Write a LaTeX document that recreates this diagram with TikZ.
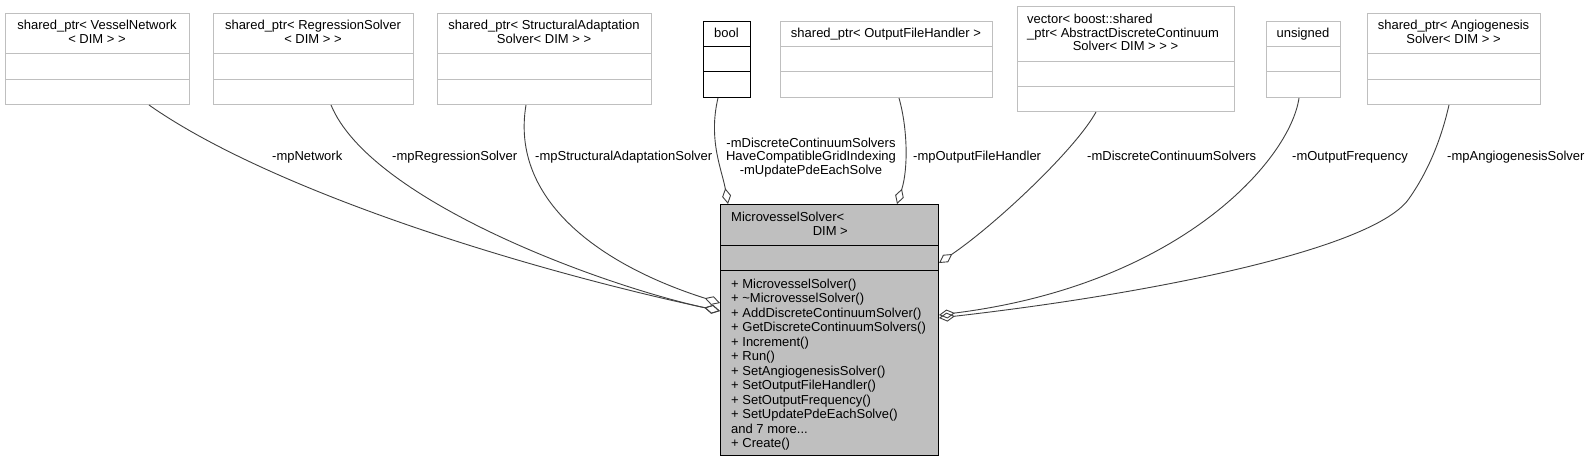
\documentclass[tikz,border=0pt]{standalone}
\usepackage{fontspec}
\setmainfont{Liberation Sans}
\usetikzlibrary{arrows.meta}
\definecolor{gborder}{HTML}{BFBFBF}
\definecolor{mainfill}{HTML}{BFBFBF}
\definecolor{edgecol}{HTML}{404040}
\begin{document}
\begin{tikzpicture}[x=1pt,y=-1pt,
  gbox/.style={draw=gborder,line width=1pt,fill=white,anchor=north west,inner sep=0pt},
  kbox/.style={draw=black,line width=1pt,fill=white,anchor=north west,inner sep=0pt},
  mbox/.style={draw=black,line width=1pt,fill=mainfill,anchor=north west,inner sep=0pt},
  gsep/.style={draw=gborder,line width=1pt},
  ksep/.style={draw=black,line width=1pt},
  txt/.style={inner sep=0pt,font=\fontsize{13}{13.4}\selectfont},
  conn/.style={draw=edgecol,line width=0.9pt,-{Diamond[open,length=16pt,width=9pt,line width=0.9pt]}},
  lbl/.style={txt,anchor=base west}]
\useasboundingbox (0,0) rectangle (1588,463);
\fill[white] (0,0) rectangle (1588,463);

% top boxes
\node[gbox,minimum width=184pt,minimum height=91pt] (vn) at (5,13) {};
\draw[gsep] (vn.west |- 0,53) -- (vn.east |- 0,53);
\draw[gsep] (vn.west |- 0,79) -- (vn.east |- 0,79);
\node[txt,anchor=base] (vnA) at (97,29.5) {shared\_ptr< VesselNetwork};
\node[txt,anchor=base] (vnB) at (97,43) {< DIM > >};

\node[gbox,minimum width=200pt,minimum height=91pt] (rs) at (213,13) {};
\draw[gsep] (rs.west |- 0,53) -- (rs.east |- 0,53);
\draw[gsep] (rs.west |- 0,79) -- (rs.east |- 0,79);
\node[txt,anchor=base] (rsA) at (313,29.5) {shared\_ptr< RegressionSolver};
\node[txt,anchor=base] (rsB) at (313,43) {< DIM > >};

\node[gbox,minimum width=214pt,minimum height=91pt] (sa) at (437,13) {};
\draw[gsep] (sa.west |- 0,53) -- (sa.east |- 0,53);
\draw[gsep] (sa.west |- 0,79) -- (sa.east |- 0,79);
\node[txt,anchor=base] (saA) at (544,29.5) {shared\_ptr< StructuralAdaptation};
\node[txt,anchor=base] (saB) at (544,43) {Solver< DIM > >};

\node[kbox,minimum width=47pt,minimum height=76pt] (bl) at (703,21) {};
\draw[ksep] (bl.west |- 0,46) -- (bl.east |- 0,46);
\draw[ksep] (bl.west |- 0,71) -- (bl.east |- 0,71);
\node[txt,anchor=base] (blA) at (726.5,37) {bool};

\node[gbox,minimum width=212pt,minimum height=76pt] (ofh) at (780,21) {};
\draw[gsep] (ofh.west |- 0,46) -- (ofh.east |- 0,46);
\draw[gsep] (ofh.west |- 0,71) -- (ofh.east |- 0,71);
\node[txt,anchor=base] (ofhA) at (886,37) {shared\_ptr< OutputFileHandler >};

\node[gbox,minimum width=217pt,minimum height=105pt] (vec) at (1017,6) {};
\draw[gsep] (vec.west |- 0,61) -- (vec.east |- 0,61);
\draw[gsep] (vec.west |- 0,86) -- (vec.east |- 0,86);
\node[txt,anchor=base west] (vecA) at (1027,23.5) {vector< boost::shared};
\node[txt,anchor=base west] (vecB) at (1027,37) {\_ptr< AbstractDiscreteContinuum};
\node[txt,anchor=base] (vecC) at (1125.5,50.5) {Solver< DIM > > >};

\node[gbox,minimum width=74pt,minimum height=76pt] (uns) at (1266,21) {};
\draw[gsep] (uns.west |- 0,46) -- (uns.east |- 0,46);
\draw[gsep] (uns.west |- 0,71) -- (uns.east |- 0,71);
\node[txt,anchor=base] (unsA) at (1303,37) {unsigned};

\node[gbox,minimum width=173pt,minimum height=91pt] (ang) at (1367,13) {};
\draw[gsep] (ang.west |- 0,53) -- (ang.east |- 0,53);
\draw[gsep] (ang.west |- 0,79) -- (ang.east |- 0,79);
\node[txt,anchor=base] (angA) at (1453.5,29.5) {shared\_ptr< Angiogenesis};
\node[txt,anchor=base] (angB) at (1453.5,43) {Solver< DIM > >};

% main box
\node[mbox,minimum width=218pt,minimum height=251pt] (mb) at (720,204) {};
\draw[ksep] (mb.west |- 0,245) -- (mb.east |- 0,245);
\draw[ksep] (mb.west |- 0,270) -- (mb.east |- 0,270);
\node[txt,anchor=base west] (mbA) at (731,221.7) {MicrovesselSolver<};
\node[txt,anchor=base east] (mbB) at (848,235) {DIM >};
\foreach [count=\i from 0] \t in {{+ MicrovesselSolver()},{+ \textasciitilde MicrovesselSolver()},{+ AddDiscreteContinuumSolver()},{+ GetDiscreteContinuumSolvers()},{+ Increment()},{+ Run()},{+ SetAngiogenesisSolver()},{+ SetOutputFileHandler()},{+ SetOutputFrequency()},{+ SetUpdatePdeEachSolve()}}
  \node[txt,anchor=base west] (mem\i) at (731,{288+14.5*\i}) {\t};
\node[txt,anchor=base west] (mem10) at (731,433) {and 7 more.{}.{}.};
\node[txt,anchor=base west] (mem11) at (731,447.5) {+ Create()};

% connectors
\draw[conn] (149,0 |- vn.south) .. controls (270,190) and (520,268) .. (mb.west |- 0,311);
\draw[conn] (331,0 |- rs.south) .. controls (370,200) and (600,285) .. (mb.west |- 0,311);
\draw[conn] (526,0 |- sa.south) .. controls (510,200) and (600,265) .. (mb.west |- 0,303);
\draw[conn] (718,0 |- bl.south) .. controls (708,140) and (722,170) .. (728,0 |- mb.north);
\draw[conn] (899,0 |- ofh.south) .. controls (908,130) and (908,170) .. (897,0 |- mb.north);
\draw[conn] (1096,0 |- vec.south) .. controls (1075,150) and (995,225) .. (mb.east |- 0,263);
\draw[conn] (1299,0 |- uns.south) .. controls (1290,160) and (1180,285) .. (mb.east |- 0,315);
\draw[conn] (1449,0 |- ang.south) .. controls (1441,140) and (1428,172) .. (1408,200) .. controls (1370,250) and (1150,294) .. (mb.east |- 0,318);

% labels
\node[lbl] (l1) at (272,160) {-mpNetwork};
\node[lbl] (l2) at (392,160) {-mpRegressionSolver};
\node[lbl] (l3) at (535,160) {-mpStructuralAdaptationSolver};
\node[txt,anchor=base] (l4a) at (811,147) {-mDiscreteContinuumSolvers};
\node[txt,anchor=base] (l4b) at (811,160.5) {HaveCompatibleGridIndexing};
\node[txt,anchor=base] (l4c) at (811,174) {-mUpdatePdeEachSolve};
\node[lbl] (l5) at (913,160) {-mpOutputFileHandler};
\node[lbl] (l6) at (1087,160) {-mDiscreteContinuumSolvers};
\node[lbl] (l7) at (1292,160) {-mOutputFrequency};
\node[lbl] (l8) at (1447,160) {-mpAngiogenesisSolver};
\end{tikzpicture}
\end{document}
